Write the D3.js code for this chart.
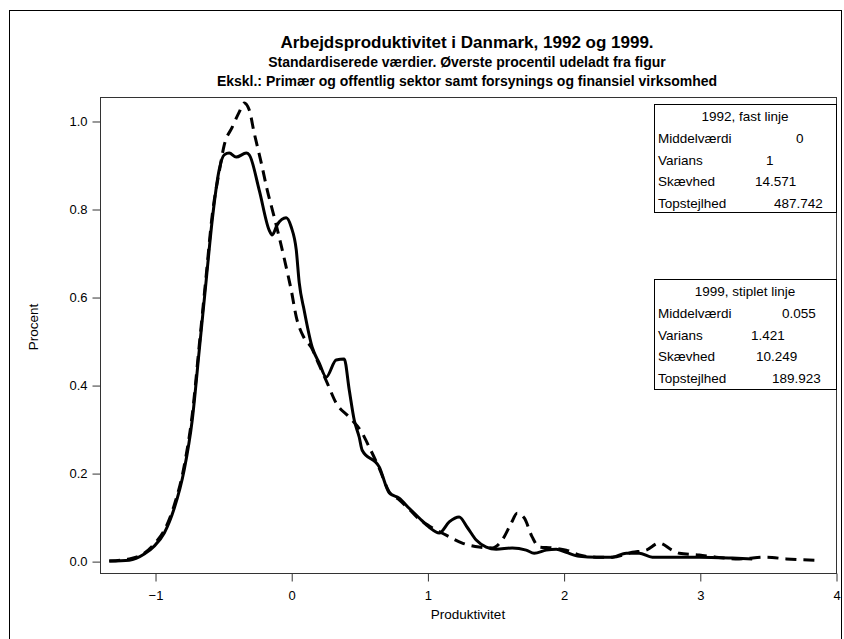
<!DOCTYPE html>
<html>
<head>
<meta charset="utf-8">
<script src="https://cdn.jsdelivr.net/npm/d3@7"></script>
<style>
  body { margin: 0; background: #fff; }
  svg text { font-family: "Liberation Sans", Arial, sans-serif; fill: #000; }
</style>
</head>
<body>
<div id="chart"></div>
<script>
// DATA
const titleLines = [
    "Arbejdsproduktivitet i Danmark, 1992 og 1999.",
    "Standardiserede værdier. Øverste procentil udeladt fra figur",
    "Ekskl.: Primær og offentlig sektor samt forsynings og finansiel virksomhed"
];
const xTicks = [-1, 0, 1, 2, 3, 4];
const yTicks = [0.0, 0.2, 0.4, 0.6, 0.8, 1.0];

// 1992, solid line: [produktivitet, procent]
const x1992 = [-1.336, -1.189, -1.079, -1.006, -0.932, -0.859, -0.786, -0.727, -0.675, -0.624,
    -0.580, -0.529, -0.492, -0.455, -0.404, -0.330, -0.308, -0.235, -0.162, -0.140,
    -0.103, -0.037, 0.000, 0.037, 0.059, 0.095, 0.154, 0.206, 0.257, 0.330,
    0.389, 0.426, 0.463, 0.499, 0.521, 0.646, 0.720, 0.793, 0.866, 0.940,
    1.013, 1.087, 1.160, 1.233, 1.292, 1.358, 1.432, 1.505, 1.623, 1.725,
    1.784, 1.872, 1.946, 2.019, 2.115, 2.239, 2.357, 2.460, 2.555, 2.651,
    2.849, 2.996, 3.238, 3.385];
const y1992 = [0.000, 0.002, 0.016, 0.034, 0.064, 0.120, 0.207, 0.320, 0.480, 0.639,
    0.775, 0.889, 0.923, 0.927, 0.918, 0.927, 0.923, 0.843, 0.752, 0.741,
    0.764, 0.780, 0.759, 0.707, 0.632, 0.570, 0.486, 0.450, 0.418, 0.457,
    0.459, 0.389, 0.320, 0.282, 0.252, 0.214, 0.155, 0.143, 0.120, 0.098,
    0.077, 0.064, 0.089, 0.100, 0.077, 0.048, 0.032, 0.027, 0.030, 0.025,
    0.018, 0.025, 0.027, 0.020, 0.011, 0.009, 0.009, 0.018, 0.018, 0.009,
    0.009, 0.009, 0.007, 0.005];

// 1999, dashed line
const x1999 = [-1.336, -1.189, -1.079, -1.006, -0.932, -0.859, -0.786, -0.727, -0.675, -0.624,
    -0.580, -0.529, -0.492, -0.433, -0.382, -0.345, -0.308, -0.272, -0.220, -0.176,
    -0.125, -0.088, -0.037, 0.000, 0.037, 0.095, 0.147, 0.206, 0.264, 0.330,
    0.426, 0.521, 0.573, 0.646, 0.720, 0.793, 0.866, 0.940, 1.013, 1.138,
    1.256, 1.380, 1.476, 1.549, 1.615, 1.659, 1.711, 1.769, 1.821, 1.916,
    2.019, 2.115, 2.239, 2.357, 2.504, 2.606, 2.702, 2.797, 2.849, 2.996,
    3.120, 3.289, 3.488, 3.634, 3.855];
const y1999 = [0.000, 0.005, 0.018, 0.039, 0.070, 0.127, 0.216, 0.332, 0.491, 0.650,
    0.786, 0.884, 0.945, 0.986, 1.020, 1.041, 1.025, 0.973, 0.905, 0.843,
    0.782, 0.736, 0.668, 0.616, 0.555, 0.507, 0.486, 0.445, 0.405, 0.359,
    0.327, 0.291, 0.259, 0.211, 0.157, 0.139, 0.118, 0.095, 0.080, 0.059,
    0.041, 0.032, 0.030, 0.048, 0.086, 0.109, 0.098, 0.055, 0.032, 0.030,
    0.025, 0.014, 0.009, 0.009, 0.020, 0.025, 0.041, 0.025, 0.018, 0.014,
    0.009, 0.005, 0.009, 0.005, 0.002];

// inset tables
const statLabels = ["Middelværdi", "Varians", "Skævhed", "Topstejlhed"];
const stats1992 = ["0", "1", "14.571", "487.742"];
const stats1999 = ["0.055", "1.421", "10.249", "189.923"];

// 1: LAYOUT
const W = 844, H = 639;
const plot = { left: 100, top: 97, right: 836, bottom: 573 };

const svg = d3.select("#chart")
    .append("svg")
    .attr("width", W)
    .attr("height", H);

// outer frame
svg.append("rect")
    .attr("x", 9.5).attr("y", 10.5)
    .attr("width", 832).attr("height", 640)
    .attr("fill", "none").attr("stroke", "#000").attr("stroke-width", 1);

// 2: SCALES
const xScale = d3.scaleLinear().domain([-1.404, 4.0]).range([plot.left, plot.right]);
const yScale = d3.scaleLinear().domain([-0.027, 1.0545]).range([plot.bottom, plot.top]);

// plot frame
svg.append("rect")
    .attr("x", plot.left + 0.5).attr("y", plot.top + 0.5)
    .attr("width", plot.right - plot.left).attr("height", plot.bottom - plot.top)
    .attr("fill", "none").attr("stroke", "#333").attr("stroke-width", 1);

// 3: AXES
const xAxis = svg.append("g")
    .attr("transform", `translate(0.5,${plot.bottom + 0.5})`)
    .call(d3.axisBottom(xScale).tickValues(xTicks).tickFormat(d3.format("d")).tickSize(8).tickPadding(9));
const yAxis = svg.append("g")
    .attr("transform", `translate(${plot.left + 0.5},0.5)`)
    .call(d3.axisLeft(yScale).tickValues(yTicks).tickFormat(d3.format(".1f")).tickSize(8).tickPadding(5));

[xAxis, yAxis].forEach(a => {
    a.select(".domain").remove();
    a.selectAll("line").attr("stroke", "#333");
    a.selectAll("text").style("font-size", "13px").attr("fill", "#000");
});

svg.append("text")
    .attr("x", (plot.left + plot.right) / 2)
    .attr("y", 619)
    .attr("text-anchor", "middle")
    .style("font-size", "13.5px")
    .text("Produktivitet");

svg.append("text")
    .attr("transform", "rotate(-90)")
    .attr("x", -(plot.top + plot.bottom) / 2 + 8)
    .attr("y", 38)
    .attr("text-anchor", "middle")
    .style("font-size", "13.5px")
    .text("Procent");

// 4: TITLES
const titleY = [48, 67, 86];
const titleSize = ["17px", "14px", "14px"];
svg.selectAll(".title")
    .data(titleLines)
    .enter()
    .append("text")
    .attr("class", "title")
    .attr("x", 467)
    .attr("y", (d, i) => titleY[i])
    .attr("text-anchor", "middle")
    .style("font-size", (d, i) => titleSize[i])
    .style("font-weight", "bold")
    .text(d => d);

// 5: CURVES
const line = d3.line()
    .x(d => xScale(d[0]))
    .y(d => yScale(d[1]))
    .curve(d3.curveMonotoneX);

svg.append("path")
    .attr("d", line(d3.zip(x1999, y1999)))
    .attr("fill", "none")
    .attr("stroke", "#000")
    .attr("stroke-width", 3)
    .attr("stroke-dasharray", "11,7");

svg.append("path")
    .attr("d", line(d3.zip(x1992, y1992)))
    .attr("fill", "none")
    .attr("stroke", "#000")
    .attr("stroke-width", 3)
    .attr("stroke-linejoin", "round");

// 6: INSET BOXES
function inset(top, height, title, values, valueX) {
    const left = 654, width = 182;
    const g = svg.append("g");
    g.append("rect")
        .attr("x", left + 0.5).attr("y", top + 0.5)
        .attr("width", width).attr("height", height)
        .attr("fill", "#fff").attr("stroke", "#000");
    g.append("text")
        .attr("x", left + width / 2)
        .attr("y", top + 17)
        .attr("text-anchor", "middle")
        .style("font-size", "13.5px")
        .text(title);
    statLabels.forEach((lab, i) => {
        const y = top + 39 + i * 21.5;
        g.append("text").attr("x", left + 4).attr("y", y)
            .style("font-size", "13.5px").text(lab);
        g.append("text").attr("x", valueX[i]).attr("y", y)
            .style("font-size", "13.5px").text(values[i]);
    });
}
inset(104, 108, "1992, fast linje", stats1992, [796, 766, 755, 774]);
inset(279, 110, "1999, stiplet linje", stats1999, [782, 751, 756, 772]);
</script>
</body>
</html>
